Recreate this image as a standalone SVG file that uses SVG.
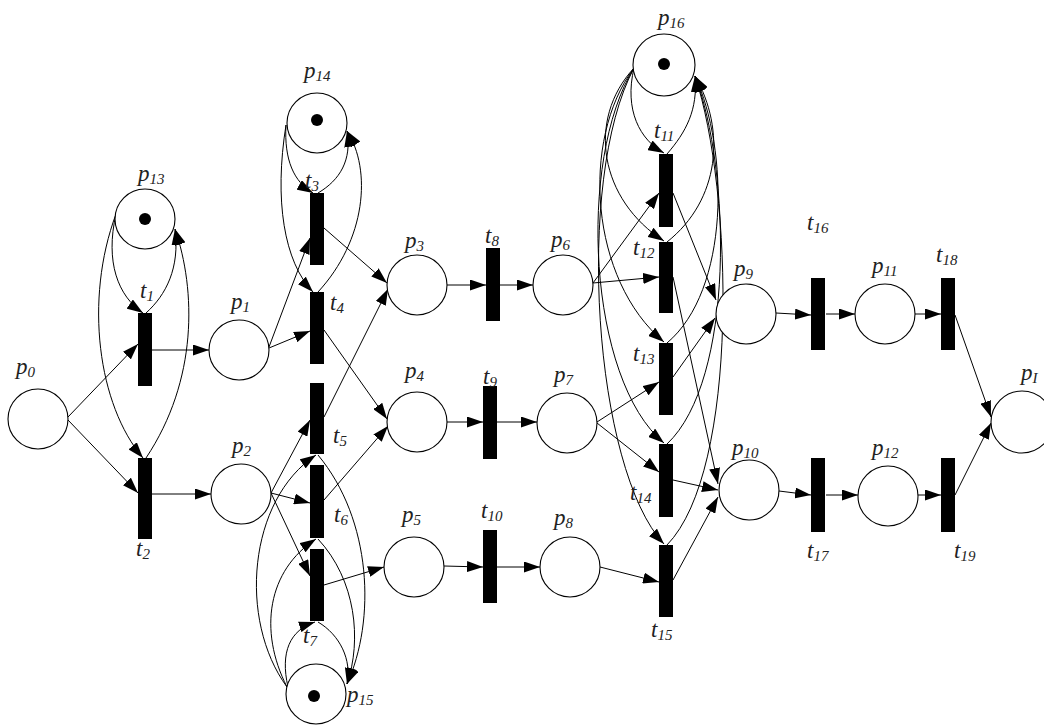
<svg xmlns="http://www.w3.org/2000/svg" width="1044" height="726" viewBox="0 0 1044 726">
<style>
.pl{fill:#fff;stroke:#000;stroke-width:1.1}
.tr{fill:#000}
.tok{fill:#000}
.arc{fill:none;stroke:#000;stroke-width:1;marker-end:url(#ah)}
.lb{font-family:"Liberation Serif","Times New Roman",serif;font-style:italic;font-size:23px;fill:#222}
.s{font-size:15px}
</style>
<defs>
<marker id="ah" viewBox="0 0 16 11" refX="16" refY="5.5" markerWidth="16" markerHeight="11" markerUnits="userSpaceOnUse" orient="auto"><path d="M0,0 L16,5.5 L0,11 z" fill="#000"/></marker>
</defs>
<rect width="1044" height="726" fill="#fff"/>
<g id="connectors">
<path class="arc" d="M68,417 L138,344"/>
<path class="arc" d="M68,420 L138,493"/>
<path class="arc" d="M152,350 L209,350"/>
<path class="arc" d="M152,494 L211,494"/>
<path class="arc" d="M116,214 C105,262 118,296 143,313"/>
<path class="arc" d="M146,313 C166,295 180,268 175,229"/>
<path class="arc" d="M116,214 C84,300 98,405 143,458"/>
<path class="arc" d="M146,458 C198,380 196,290 175,229"/>
<path class="arc" d="M286,125 C284,160 294,182 313,193"/>
<path class="arc" d="M318,193 C340,180 352,160 347,131"/>
<path class="arc" d="M286,125 C274,200 284,262 313,292"/>
<path class="arc" d="M318,292 C366,240 372,170 347,131"/>
<path class="arc" d="M269,347 L310,238"/>
<path class="arc" d="M269,348 L310,331"/>
<path class="arc" d="M324,228 L387,283"/>
<path class="arc" d="M324,330 L387,419"/>
<path class="arc" d="M324,417 L388,289"/>
<path class="arc" d="M324,500 L388,426"/>
<path class="arc" d="M271,493 L310,420"/>
<path class="arc" d="M271,493 L310,503"/>
<path class="arc" d="M271,493 L310,576"/>
<path class="arc" d="M324,585 L384,567"/>
<path class="arc" d="M287,687 C238,620 248,500 316,455"/>
<path class="arc" d="M287,687 C258,630 268,570 316,539"/>
<path class="arc" d="M288,687 C280,652 290,630 315,622"/>
<path class="arc" d="M318,455 C372,520 376,620 347,684"/>
<path class="arc" d="M318,539 C356,580 362,640 347,684"/>
<path class="arc" d="M318,622 C340,635 352,660 347,684"/>
<path class="arc" d="M447,285 L486,285"/>
<path class="arc" d="M500,285 L533,285"/>
<path class="arc" d="M447,422 L483,422"/>
<path class="arc" d="M497,422 L537,422"/>
<path class="arc" d="M444,566 L483,567"/>
<path class="arc" d="M497,567 L540,567"/>
<path class="arc" d="M593,283 L659,193"/>
<path class="arc" d="M593,283 L659,277"/>
<path class="arc" d="M597,422 L659,382"/>
<path class="arc" d="M597,423 L659,472"/>
<path class="arc" d="M600,567 L659,582"/>
<path class="arc" d="M634,68 C624,110 640,140 664,153"/>
<path class="arc" d="M634,68 C586,120 600,200 664,241"/>
<path class="arc" d="M634,68 C580,140 590,280 664,342"/>
<path class="arc" d="M634,68 C577,160 588,380 664,443"/>
<path class="arc" d="M634,68 C574,180 594,470 664,544"/>
<path class="arc" d="M667,154 C686,132 698,110 695,76"/>
<path class="arc" d="M667,242 C720,200 726,130 695,76"/>
<path class="arc" d="M667,343 C730,290 729,150 695,76"/>
<path class="arc" d="M667,444 C735,380 731,170 695,76"/>
<path class="arc" d="M667,545 C740,470 733,190 695,76"/>
<path class="arc" d="M673,193 L716,300"/>
<path class="arc" d="M673,377 L715,318"/>
<path class="arc" d="M673,277 L718,484"/>
<path class="arc" d="M673,480 L718,490"/>
<path class="arc" d="M673,580 L718,497"/>
<path class="arc" d="M776,313 L811,315"/>
<path class="arc" d="M826,314 L855,314"/>
<path class="arc" d="M915,314 L941,314"/>
<path class="arc" d="M955,315 L991,417"/>
<path class="arc" d="M779,491 L811,495"/>
<path class="arc" d="M826,495 L858,495"/>
<path class="arc" d="M918,495 L941,495"/>
<path class="arc" d="M955,495 L991,423"/>
</g>
<g id="p0"><circle class="pl" cx="38" cy="419" r="30"/><text class="lb" x="16" y="374">p<tspan class="s" dy="3">0</tspan></text></g>
<g id="p1"><circle class="pl" cx="239" cy="350" r="30"/><text class="lb" x="231" y="309">p<tspan class="s" dy="3">1</tspan></text></g>
<g id="p2"><circle class="pl" cx="241" cy="494" r="30"/><text class="lb" x="232" y="453">p<tspan class="s" dy="3">2</tspan></text></g>
<g id="p3"><circle class="pl" cx="417" cy="285" r="30"/><text class="lb" x="405" y="248">p<tspan class="s" dy="3">3</tspan></text></g>
<g id="p4"><circle class="pl" cx="417" cy="422" r="30"/><text class="lb" x="405" y="378">p<tspan class="s" dy="3">4</tspan></text></g>
<g id="p5"><circle class="pl" cx="414" cy="567" r="30"/><text class="lb" x="402" y="522">p<tspan class="s" dy="3">5</tspan></text></g>
<g id="p6"><circle class="pl" cx="563" cy="285" r="30"/><text class="lb" x="551" y="247">p<tspan class="s" dy="3">6</tspan></text></g>
<g id="p7"><circle class="pl" cx="567" cy="423" r="30"/><text class="lb" x="554" y="382">p<tspan class="s" dy="3">7</tspan></text></g>
<g id="p8"><circle class="pl" cx="570" cy="567" r="30"/><text class="lb" x="554" y="525">p<tspan class="s" dy="3">8</tspan></text></g>
<g id="p9"><circle class="pl" cx="746" cy="314" r="30"/><text class="lb" x="734" y="276">p<tspan class="s" dy="3">9</tspan></text></g>
<g id="p10"><circle class="pl" cx="749" cy="490" r="30"/><text class="lb" x="732" y="455">p<tspan class="s" dy="3">10</tspan></text></g>
<g id="p11"><circle class="pl" cx="885" cy="314" r="30"/><text class="lb" x="872" y="273">p<tspan class="s" dy="3">11</tspan></text></g>
<g id="p12"><circle class="pl" cx="888" cy="496" r="30"/><text class="lb" x="872" y="455">p<tspan class="s" dy="3">12</tspan></text></g>
<g id="p13"><circle class="pl" cx="145" cy="219" r="30"/><circle class="tok" cx="145" cy="219" r="6"/><text class="lb" x="138" y="181">p<tspan class="s" dy="3">13</tspan></text></g>
<g id="p14"><circle class="pl" cx="317" cy="123" r="30"/><circle class="tok" cx="317" cy="120" r="6"/><text class="lb" x="304" y="78">p<tspan class="s" dy="3">14</tspan></text></g>
<g id="p15"><circle class="pl" cx="316" cy="694" r="30"/><circle class="tok" cx="314" cy="696" r="6"/><text class="lb" x="347" y="702">p<tspan class="s" dy="3">15</tspan></text></g>
<g id="p16"><circle class="pl" cx="664" cy="65" r="31"/><circle class="tok" cx="664" cy="64" r="6"/><text class="lb" x="658" y="25">p<tspan class="s" dy="3">16</tspan></text></g>
<g id="pI"><circle class="pl" cx="1022" cy="422" r="31"/><text class="lb" x="1021" y="380">p<tspan class="s" dy="3">I</tspan></text></g>
<g id="t1"><rect class="tr" x="138" y="313" width="14" height="73"/><text class="lb" x="140" y="298">t<tspan class="s" dy="3">1</tspan></text></g>
<g id="t2"><rect class="tr" x="138" y="458" width="14" height="81"/><text class="lb" x="136" y="556">t<tspan class="s" dy="3">2</tspan></text></g>
<g id="t3"><rect class="tr" x="310" y="193" width="14" height="72"/><text class="lb" x="305" y="188">t<tspan class="s" dy="3">3</tspan></text></g>
<g id="t4"><rect class="tr" x="310" y="292" width="14" height="72"/><text class="lb" x="330" y="310">t<tspan class="s" dy="3">4</tspan></text></g>
<g id="t5"><rect class="tr" x="310" y="383" width="14" height="71"/><text class="lb" x="333" y="443">t<tspan class="s" dy="3">5</tspan></text></g>
<g id="t6"><rect class="tr" x="310" y="465" width="14" height="73"/><text class="lb" x="334" y="522">t<tspan class="s" dy="3">6</tspan></text></g>
<g id="t7"><rect class="tr" x="310" y="549" width="14" height="72"/><text class="lb" x="303" y="643">t<tspan class="s" dy="3">7</tspan></text></g>
<g id="t8"><rect class="tr" x="486" y="248" width="14" height="73"/><text class="lb" x="485" y="243">t<tspan class="s" dy="3">8</tspan></text></g>
<g id="t9"><rect class="tr" x="483" y="386" width="14" height="73"/><text class="lb" x="483" y="384">t<tspan class="s" dy="3">9</tspan></text></g>
<g id="t10"><rect class="tr" x="483" y="530" width="14" height="73"/><text class="lb" x="481" y="518">t<tspan class="s" dy="3">10</tspan></text></g>
<g id="t11"><rect class="tr" x="659" y="154" width="14" height="73"/><text class="lb" x="654" y="138">t<tspan class="s" dy="3">11</tspan></text></g>
<g id="t12"><rect class="tr" x="659" y="242" width="14" height="71"/><text class="lb" x="633" y="255">t<tspan class="s" dy="3">12</tspan></text></g>
<g id="t13"><rect class="tr" x="659" y="343" width="14" height="72"/><text class="lb" x="633" y="361">t<tspan class="s" dy="3">13</tspan></text></g>
<g id="t14"><rect class="tr" x="659" y="444" width="14" height="73"/><text class="lb" x="630" y="500">t<tspan class="s" dy="3">14</tspan></text></g>
<g id="t15"><rect class="tr" x="659" y="545" width="14" height="72"/><text class="lb" x="651" y="637">t<tspan class="s" dy="3">15</tspan></text></g>
<g id="t16"><rect class="tr" x="811" y="278" width="14" height="72"/><text class="lb" x="807" y="230">t<tspan class="s" dy="3">16</tspan></text></g>
<g id="t17"><rect class="tr" x="811" y="458" width="14" height="74"/><text class="lb" x="807" y="558">t<tspan class="s" dy="3">17</tspan></text></g>
<g id="t18"><rect class="tr" x="941" y="278" width="14" height="72"/><text class="lb" x="936" y="262">t<tspan class="s" dy="3">18</tspan></text></g>
<g id="t19"><rect class="tr" x="941" y="458" width="14" height="74"/><text class="lb" x="954" y="558">t<tspan class="s" dy="3">19</tspan></text></g>
</svg>
